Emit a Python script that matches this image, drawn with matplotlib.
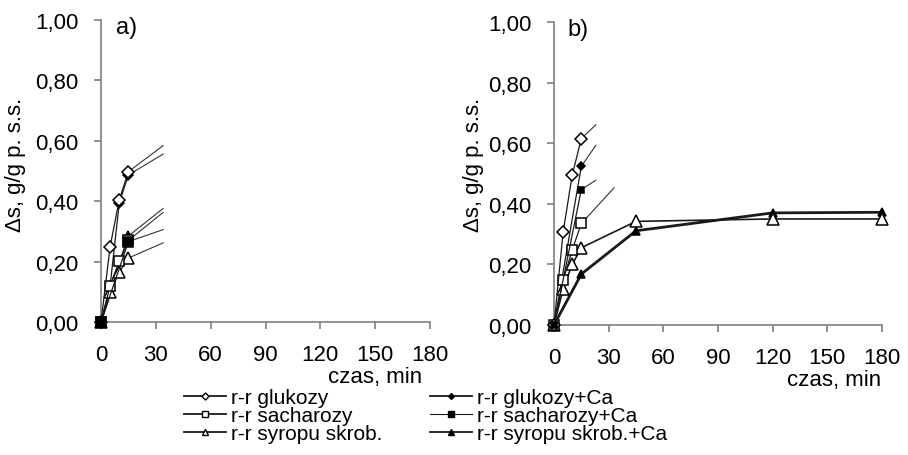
import matplotlib
matplotlib.use("Agg")
import matplotlib.pyplot as plt
from matplotlib.lines import Line2D

plt.rcParams['font.family'] = ['Liberation Sans', 'DejaVu Sans']

# ---------------- data ----------------
labels = ["r-r glukozy", "r-r sacharozy", "r-r syropu skrob.",
          "r-r glukozy+Ca", "r-r sacharozy+Ca", "r-r syropu skrob.+Ca"]
x_ticks = [0, 30, 60, 90, 120, 150, 180]
y_ticks = [0.0, 0.2, 0.4, 0.6, 0.8, 1.0]

# panel a)
a_glu_t = [0, 5, 10, 15];      a_glu = [0, 0.25, 0.405, 0.498]
a_sach_t = [0, 5, 10, 15];     a_sach = [0, 0.12, 0.203, 0.27]
a_syr_t = [0, 5, 10, 15];      a_syr = [0, 0.098, 0.165, 0.212]
a_glu_ca_t = [0, 5, 10, 15];   a_glu_ca = [0, 0.12, 0.395, 0.487]
a_sach_ca_t = [0, 15];         a_sach_ca = [0, 0.266]
a_syr_ca_t = [0, 15];          a_syr_ca = [0, 0.285]
# continuation lines (end points)
a_tail_t = [34, 34, 34, 34, 34, 34]
a_tail = [0.584, 0.363, 0.262, 0.556, 0.306, 0.376]

# panel b)
b_glu_t = [0, 5, 10, 15];      b_glu = [0, 0.306, 0.495, 0.615]
b_sach_t = [0, 5, 10, 15];     b_sach = [0, 0.147, 0.248, 0.335]
b_syr_t = [0, 5, 10, 15, 45, 120, 180]
b_syr = [0, 0.119, 0.20, 0.255, 0.342, 0.350, 0.350]
b_glu_ca_t = [0, 15];          b_glu_ca = [0, 0.524]
b_sach_ca_t = [0, 15];         b_sach_ca = [0, 0.447]
b_syr_ca_t = [0, 15, 45, 120, 180]
b_syr_ca = [0, 0.168, 0.311, 0.370, 0.372]
b_tail_t = [23, 33, None, 23, 23, None]
b_tail = [0.661, 0.453, None, 0.593, 0.478, None]

# ---------------- style ----------------
markers = ['D', 's', '^', 'D', 's', '^']
faces = ['white', 'white', 'white', 'black', 'black', 'black']
ms_a = [6, 7, 8, 5, 7, 7]
ms_b = [6, 7, 8, 4.5, 4.5, 6]
lws_a = [0.9, 0.9, 0.9, 0.9, 0.9, 1.3]
lws_b = [0.9, 0.9, 1.2, 0.9, 0.9, 2.0]
z_order = [7, 6, 5, 4, 9, 3]
line_col = '#1a1a1a'
gray = '#7f7f7f'

W, H = 908, 456
fig = plt.figure(figsize=(W / 100, H / 100), dpi=100)

ax_a = fig.add_axes([101 / W, (H - 323) / H, 329 / W, (323 - 21) / H])
ax_b = fig.add_axes([554 / W, (H - 326) / H, 328 / W, (326 - 23) / H])


def style_axis(ax):
    ax.set_xlim(0, 180)
    ax.set_ylim(0, 1.0)
    ax.set_xticks(x_ticks)
    ax.set_xticklabels([str(v) for v in x_ticks], fontsize=16)
    ax.set_yticks(y_ticks)
    ax.set_yticklabels([f"{v:.2f}".replace('.', ',') for v in y_ticks], fontsize=16)
    for s in ['top', 'right']:
        ax.spines[s].set_visible(False)
    for s in ['left', 'bottom']:
        ax.spines[s].set_color(gray)
        ax.spines[s].set_linewidth(1.2)
    ax.tick_params(axis='x', direction='out', length=5, width=1.2, color=gray, pad=11)
    ax.tick_params(axis='y', direction='out', length=5, width=1.2, color=gray, pad=11)
    ax.patch.set_alpha(0)


def draw_panel(ax, series, tails_t, tails, lws, ms):
    for i, (t, y) in enumerate(series):
        if tails_t[i] is not None:
            ax.plot([t[-1], tails_t[i]], [y[-1], tails[i]], color='#333333',
                    lw=0.8, zorder=1, clip_on=False)
    for i, (t, y) in enumerate(series):
        ax.plot(t, y, color=line_col, lw=lws[i], zorder=z_order[i] + 1,
                clip_on=False, mew=1.1, marker=markers[i], mfc=faces[i],
                mec='black', ms=ms[i])


series_a = [(a_glu_t, a_glu), (a_sach_t, a_sach), (a_syr_t, a_syr),
            (a_glu_ca_t, a_glu_ca), (a_sach_ca_t, a_sach_ca), (a_syr_ca_t, a_syr_ca)]
series_b = [(b_glu_t, b_glu), (b_sach_t, b_sach), (b_syr_t, b_syr),
            (b_glu_ca_t, b_glu_ca), (b_sach_ca_t, b_sach_ca), (b_syr_ca_t, b_syr_ca)]

draw_panel(ax_a, series_a, a_tail_t, a_tail, lws_a, ms_a)
draw_panel(ax_b, series_b, b_tail_t, b_tail, lws_b, ms_b)
style_axis(ax_a)
style_axis(ax_b)

# labels
ylab = "\u0394s, g/g p. s.s."
fig.text(16 / W, 1 - 165 / H, ylab, rotation=90, ha='center', va='center', fontsize=16)
fig.text(473 / W, 1 - 165 / H, ylab, rotation=90, ha='center', va='center', fontsize=16)
fig.text(375 / W, 1 - 378 / H, "czas, min", ha='center', va='center', fontsize=16)
fig.text(834 / W, 1 - 381 / H, "czas, min", ha='center', va='center', fontsize=16)
fig.text(116 / W, 1 - 28 / H, "a)", ha='left', va='center', fontsize=17)
fig.text(567 / W, 1 - 30 / H, "b)", ha='left', va='center', fontsize=17)

# legend
leg_handles = []
for i in range(6):
    leg_handles.append(Line2D([], [], color=line_col, lw=1.3 if i != 4 else 0.8,
                              mew=1.0, marker=markers[i], mfc=faces[i], mec='black',
                              ms=ms_a[i] * 0.6))
leg = fig.legend(leg_handles, labels, ncol=2, loc='upper left',
                 bbox_to_anchor=(184 / W, 1 - 389 / H), frameon=False,
                 fontsize=15, handlelength=2.0, handletextpad=0.25,
                 labelspacing=-0.04, columnspacing=2.3, borderpad=0, borderaxespad=0)

fig.savefig("out.png", dpi=100)
